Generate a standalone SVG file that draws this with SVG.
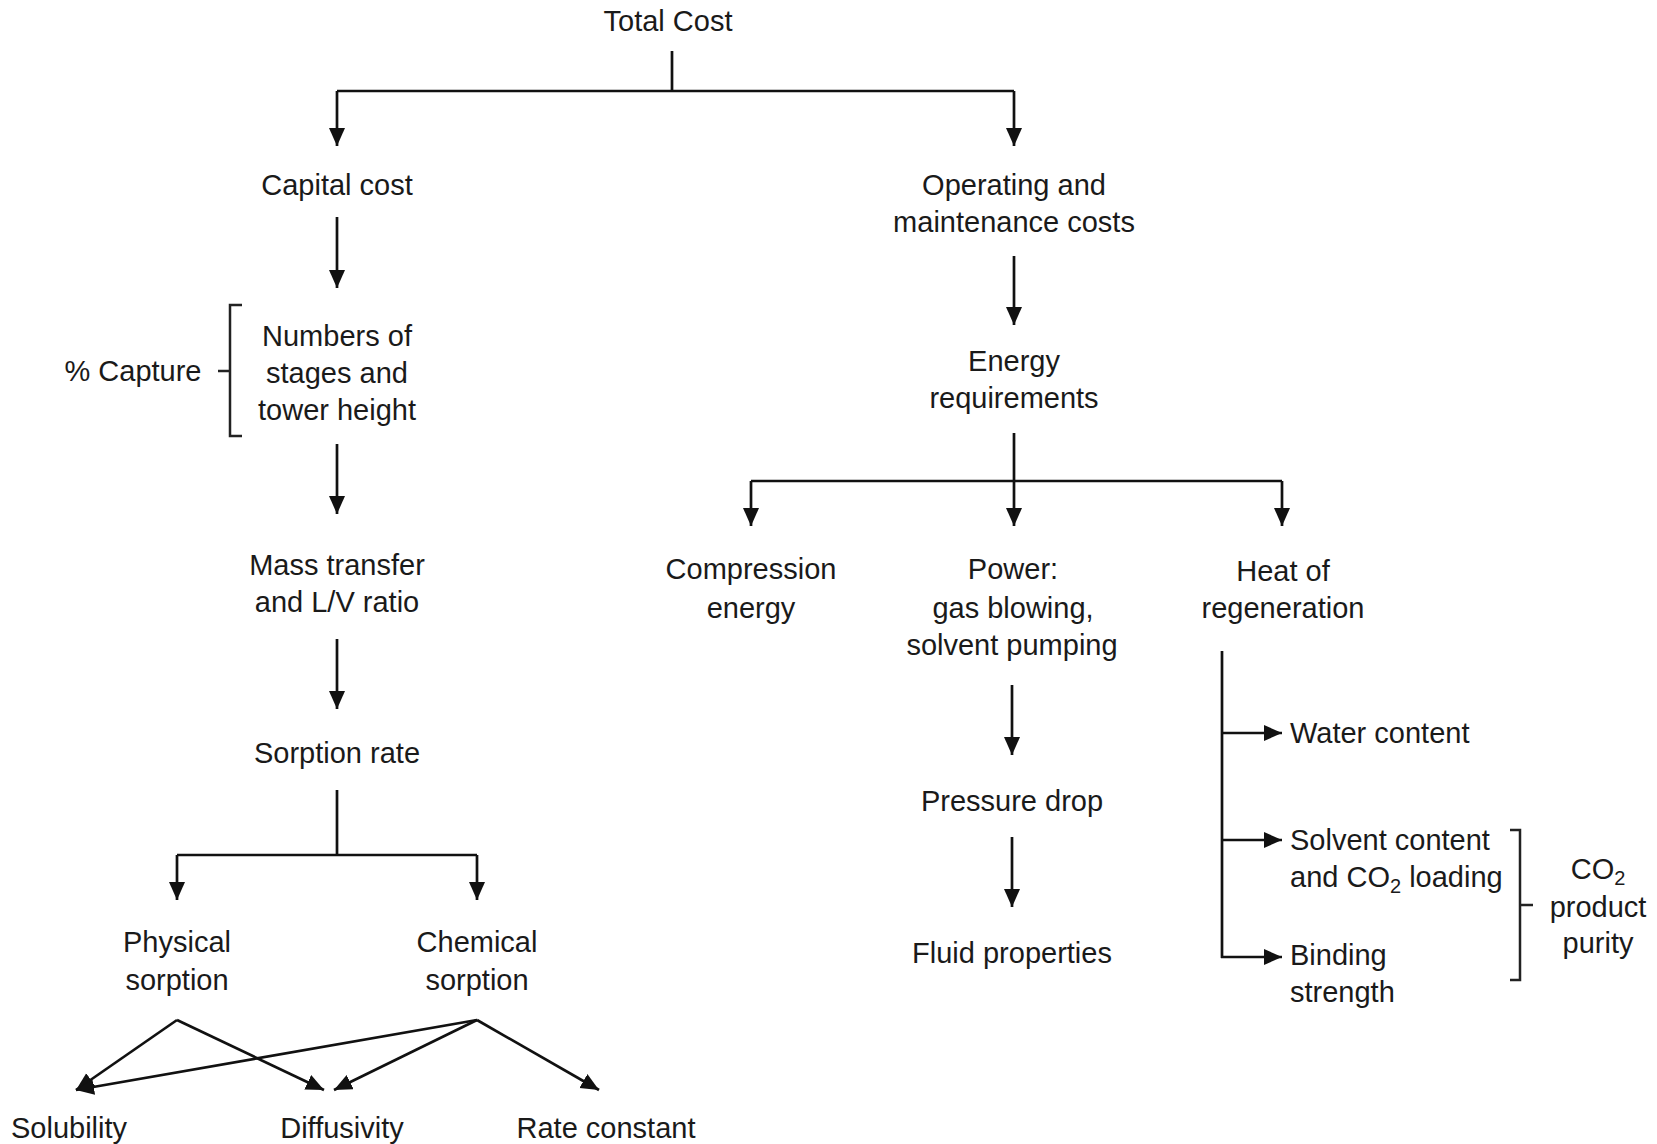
<svg xmlns="http://www.w3.org/2000/svg" width="1657" height="1144" viewBox="0 0 1657 1144">
<defs>
<marker id="ah" markerUnits="userSpaceOnUse" markerWidth="20" markerHeight="18" refX="18" refY="8" orient="auto">
<path d="M0,0 L18,8 L0,16 z" fill="#111"/>
</marker>
<style>
text{font-family:"Liberation Sans",Arial,sans-serif;font-size:29px;fill:#1a1a1a;text-anchor:middle}
.l{text-anchor:start}
.c line,.c path,.c polyline{stroke:#111;stroke-width:2.7;fill:none}
.a{marker-end:url(#ah)}
.br{stroke:#222;stroke-width:2.5;fill:none}
</style>
</defs>
<rect width="1657" height="1144" fill="#fff"/>

<g id="total-cost"><text x="668" y="31">Total Cost</text></g>
<g id="capital-cost"><text x="337" y="195">Capital cost</text></g>
<g id="operating"><text x="1014" y="195">Operating and</text><text x="1014" y="232">maintenance costs</text></g>
<g id="stages"><text x="337" y="346">Numbers of</text><text x="337" y="383">stages and</text><text x="337" y="420">tower height</text></g>
<g id="capture"><text x="133" y="381">% Capture</text><path class="br" d="M242,305 H230 V436 H242 M218,371 H230"/></g>
<g id="energy"><text x="1014" y="371">Energy</text><text x="1014" y="408">requirements</text></g>
<g id="mass-transfer"><text x="337" y="575">Mass transfer</text><text x="337" y="612">and L/V ratio</text></g>
<g id="sorption-rate"><text x="337" y="763">Sorption rate</text></g>
<g id="compression"><text x="751" y="579">Compression</text><text x="751" y="618">energy</text></g>
<g id="power"><text x="1013" y="579">Power:</text><text x="1013" y="618">gas blowing,</text><text x="1012" y="655">solvent pumping</text></g>
<g id="heat"><text x="1283" y="581">Heat of</text><text x="1283" y="618">regeneration</text></g>
<g id="pressure-drop"><text x="1012" y="811">Pressure drop</text></g>
<g id="fluid"><text x="1012" y="963">Fluid properties</text></g>
<g id="water"><text class="l" x="1290" y="743">Water content</text></g>
<g id="solvent"><text class="l" x="1290" y="850">Solvent content</text><text class="l" x="1290" y="887">and CO<tspan font-size="20" dy="6">2</tspan><tspan dy="-6"> loading</tspan></text></g>
<g id="binding"><text class="l" x="1290" y="965">Binding</text><text class="l" x="1290" y="1002">strength</text></g>
<g id="purity"><path class="br" d="M1510,830 H1520 V980 H1510 M1520,905 H1533"/><text x="1598" y="879">CO<tspan font-size="20" dy="6">2</tspan></text><text x="1598" y="917">product</text><text x="1598" y="953">purity</text></g>
<g id="physical"><text x="177" y="952">Physical</text><text x="177" y="990">sorption</text></g>
<g id="chemical"><text x="477" y="952">Chemical</text><text x="477" y="990">sorption</text></g>
<g id="solubility"><text x="69" y="1138">Solubility</text></g>
<g id="diffusivity"><text x="342" y="1138">Diffusivity</text></g>
<g id="rate"><text x="606" y="1138">Rate constant</text></g>

<g id="connectors" class="c">
<line x1="672" y1="51" x2="672" y2="91"/>
<line x1="337" y1="91" x2="1014" y2="91"/>
<line class="a" x1="337" y1="91" x2="337" y2="146"/>
<line class="a" x1="1014" y1="91" x2="1014" y2="146"/>
<line class="a" x1="337" y1="217" x2="337" y2="288"/>
<line class="a" x1="1014" y1="256" x2="1014" y2="325"/>
<line class="a" x1="337" y1="444" x2="337" y2="514"/>
<line class="a" x1="337" y1="639" x2="337" y2="709"/>
<line x1="337" y1="790" x2="337" y2="855"/>
<line x1="177" y1="855" x2="477" y2="855"/>
<line class="a" x1="177" y1="855" x2="177" y2="900"/>
<line class="a" x1="477" y1="855" x2="477" y2="900"/>
<line class="a" x1="177" y1="1020" x2="76" y2="1090"/>
<line class="a" x1="177" y1="1020" x2="324" y2="1090"/>
<line class="a" x1="477" y1="1020" x2="76" y2="1090"/>
<line class="a" x1="477" y1="1020" x2="334" y2="1090"/>
<line class="a" x1="477" y1="1020" x2="599" y2="1090"/>
<line class="a" x1="1014" y1="433" x2="1014" y2="526"/>
<line x1="751" y1="481" x2="1282" y2="481"/>
<line class="a" x1="751" y1="481" x2="751" y2="526"/>
<line class="a" x1="1282" y1="481" x2="1282" y2="526"/>
<line class="a" x1="1012" y1="685" x2="1012" y2="755"/>
<line class="a" x1="1012" y1="837" x2="1012" y2="907"/>
<line x1="1222" y1="651" x2="1222" y2="958"/>
<line class="a" x1="1221" y1="733" x2="1282" y2="733"/>
<line class="a" x1="1221" y1="840" x2="1282" y2="840"/>
<line class="a" x1="1221" y1="957" x2="1282" y2="957"/>
</g>
</svg>
